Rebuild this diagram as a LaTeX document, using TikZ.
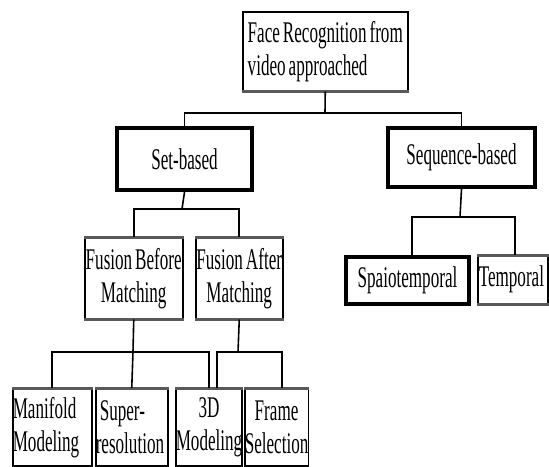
\documentclass[tikz,border=0pt]{standalone}
\usepackage{fontspec}
\setmainfont{Liberation Serif}[FakeStretch=0.57,WordSpace=0.7]
\begin{document}
\begin{tikzpicture}[x=1pt,y=-1pt,
  bx/.style={draw, line width=1.5pt, inner sep=0pt, anchor=north west, align=center,
    font=\fontsize{30}{33}\selectfont},
  heavy/.style={bx, line width=4pt},
  ln/.style={line width=1.6pt},
  edge/.style={line width=3pt, gray!70!black}]
\useasboundingbox (0,0) rectangle (549,466);
% boxes
\node[bx, minimum width=165, minimum height=79, align=left] (root) at (242,11)
  {Face Recognition from\\video approached};
\node[heavy, minimum width=135, minimum height=62] (set) at (115,126) {Set-based};
\node[heavy, minimum width=147, minimum height=59] (seq) at (386,126) {Sequence-based};
\node[bx, minimum width=98, minimum height=81] (fb) at (84,237) {Fusion Before\\Matching};
\node[bx, minimum width=87, minimum height=81] (fa) at (195,237) {Fusion After\\Matching};
\node[heavy, minimum width=123, minimum height=47] (spt) at (344,255) {Spaiotemporal};
\node[bx, minimum width=70, minimum height=48, text width=68, align=left] (tmp) at (477,255) {Temporal};
\node[bx, minimum width=79, minimum height=77, text width=79, align=left] (man) at (12,388) {Manifold\\Modeling};
\node[bx, minimum width=72, minimum height=77, text width=72, align=left] (sup) at (95,388) {\hspace{4pt}Super-\\resolution};
\node[bx, minimum width=64, minimum height=77] (d3) at (175,388) {3D\\Modeling};
\node[bx, minimum width=61, minimum height=77] (fs) at (244,388) {Frame\\Selection};
% thicker shaded edges
\draw[edge] (root.south west) -- (root.south east);
\draw[edge] (fb.north west) -- (fb.north east);
\draw[edge] (fb.south west) -- (fb.south east);
\draw[edge] (fa.north west) -- (fa.north east);
\draw[edge] (fa.south west) -- (fa.south east);
\draw[edge] (tmp.north west) -- (tmp.north east);
\draw[edge] (tmp.south west) -- (tmp.south east);
\foreach \b in {man,sup,d3,fs} \draw[edge] (\b.north west) -- (\b.north east);
% junctions
\coordinate (j1) at (325,113);
\coordinate (j2) at (182,209);
\coordinate (j3) at (460,217);
\coordinate (j4) at (133,352);
\coordinate (j5) at (238,352);
\coordinate (spttop) at (412,255);
\coordinate (tmptop) at (515,255);
\coordinate (d3top) at (217,388);
\coordinate (fstop) at (282,388);
% connectors
\draw[ln] (root.south) -- (j1);
\draw[ln] (set.north) |- (j1) -| (seq.north);
\draw[ln] (set.south) -- (j2);
\draw[ln] (fb.north) |- (j2) -| (fa.north);
\draw[ln] (seq.south) -- (j3);
\draw[ln] (spttop) |- (j3) -| (tmptop);
\draw[ln] (fb.south) -- (j4);
\draw[ln] (man.north) |- (j4) -| (d3.north);
\draw[ln] (sup.north) -- (j4);
\draw[ln] (fa.south) -- (j5);
\draw[ln] (d3top) |- (j5) -| (fstop);
\end{tikzpicture}
\end{document}
